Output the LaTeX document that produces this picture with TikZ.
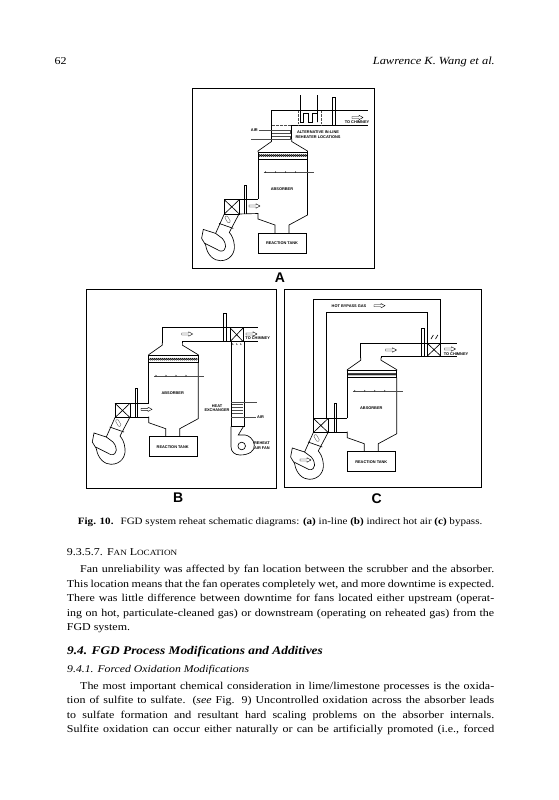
\documentclass[tikz,border=0pt]{standalone}
\usepackage{fontspec}
\setmainfont[FakeStretch=1.14]{Liberation Serif}
\setsansfont{Liberation Sans}
\usetikzlibrary{positioning}

\newcommand{\bodyline}[4]{\node[bodytext] (#1) at (#2,#3) {#4};}
\newcommand{\fillline}[5]{\node[bodytext] (#1) at (#2,#3) {\makebox[#4pt][s]{#5}};}

\tikzset{
  bodytext/.style={anchor=base west, inner sep=0pt, font=\fontsize{10.5}{12}\selectfont},
  tinylabel/.style={inner sep=0pt, align=center, font=\sffamily\bfseries\fontsize{3.9}{4.6}\selectfont},
  panelletter/.style={inner sep=0pt, font=\sffamily\bfseries\fontsize{14}{14}\selectfont},
  frameline/.style={draw=black, line width=0.9pt},
  pipeline/.style={draw=black, line width=0.65pt},
  thinline/.style={draw=black!70, line width=0.35pt},
  % absorber, origin at the top left corner of the packed bed
  pics/absorberunit/.style={code={
    \draw[pipeline] (0,0) rectangle (49.5,7);
    \foreach \x in {1,...,24} {
      \draw[black, line width=0.45pt] (2*\x-0.3,3.5) circle (1);
    }
    \draw[pipeline] (13.5,-13) -- (13.5,-10.5) -- (0,-1) -- (0,0);
    \draw[pipeline] (33.7,-13) -- (33.7,-10.5) -- (49.5,-1) -- (49.5,0);
    \draw[pipeline] (0,7) -- (0,47);
    \draw[pipeline] (0,61) -- (0,67) -- (17,73) -- (17,81);
    \draw[pipeline] (49.5,7) -- (49.5,63) -- (31,73) -- (31,81);
    \draw[pipeline] (0.5,81) rectangle (48.5,101);
    \draw[thinline] (5.5,20) -- (55.5,20);
    \foreach \x in {7,17,27,37} {
      \fill (\x,19.2) -- (\x+1,20) -- (\x,20.8) -- cycle;
    }
    \node[tinylabel] (label) at (24,37) {ABSORBER};
    \node[tinylabel] (tank) at (24,91) {REACTION TANK};
  }},
  % fan and damper, origin at the top left corner of the damper box
  pics/fanunit/.style={code={
    \draw[pipeline] (0,0) rectangle (15,14.3);
    \draw[pipeline] (0,0) -- (15,14.3) (15,0) -- (0,14.3);
    \draw[pipeline] (0,14.3) -- (-8.7,33.7) -- (-21,29.7) -- (-22.7,38.7) -- (-18.7,45.3)
      .. controls (-17,56) and (-10,61) .. (-4,61)
      .. controls (6,61) and (11,53) .. (10,45.3)
      .. controls (9.5,39) and (7,35) .. (5,32.7) -- (14.7,14.3);
    \draw[pipeline] (-19.3,43.7) -- (-4.3,51.3)
      .. controls (-1,52) and (1.5,49.5) .. (1.3,47)
      .. controls (1,42) and (-1,40) .. (-2,38.7) -- (-8.7,33.7);
    \draw[pipeline] (-5.3,23.7) -- (9,28.7);
    \draw[thinline, rotate around={-60:(3.3,19.7)}, rounded corners=1pt] (-0.3,18.2) rectangle (6.9,21.2);
  }},
  pics/gasarrow/.style={code={
    \draw[black, line width=0.4pt] (0,-1) -- (7,-1) -- (7,-2.2) -- (11,0) -- (7,2.2) -- (7,1) -- (0,1) -- cycle;
  }},
}

\begin{document}
\begin{tikzpicture}[x=1pt, y=-1pt]
  \useasboundingbox (0,0) rectangle (558,800);
  \fill[white] (0,0) rectangle (558,800);

  % Running head
  \node[bodytext] (pagenumber) at (54.5,65) {62};
  \node[bodytext, anchor=base east, font=\itshape\fontsize{10.9}{12}\selectfont] (running) at (495,65) {Lawrence K. Wang et al.};

  % Panel A
  \draw[frameline] (192.7,88) rectangle (374,268);
  \pic (absa) at (258,152) {absorberunit};
  \pic (fana) at (224.3,199.7) {fanunit};
  \draw[pipeline] (239.3,199.7) -- (258,199.7);
  \draw[pipeline] (239.3,214) -- (258,213.5);
  \draw[pipeline] (244,214) -- (244,185.5) -- (246.7,185.5) -- (246.7,214);
  \pic at (249,206) {gasarrow};
  \draw[pipeline] (271.5,139) -- (271.5,110.7) -- (368,110.7);
  \draw[pipeline] (291.7,139) -- (291.7,125) -- (368,125);
  \draw[pipeline] (332.3,125) -- (332.3,97.3) -- (335,97.3) -- (335,125);
  % in-line coil
  \draw[pipeline] (300,95) -- (300,122) -- (303,122) -- (303,113.5) -- (308,113.5) -- (308,122) -- (312,122)
    -- (312,113.5) -- (317.5,113.5) -- (317.5,122) -- (317.5,95);
  \draw[densely dotted, thinline] (298,111) -- (298,125) (321,111) -- (321,125);
  % alternative coil
  \draw[thinline] (258.5,130) -- (290,130) -- (290,133) -- (272,133) (272,136) -- (290,136) -- (290,139) -- (250.7,139);
  \draw[densely dotted, thinline] (271.5,125) -- (291.7,125);
  \node[tinylabel] (altlabel) at (318,134.5) {ALTERNATIVE IN-LINE\\REHEATER LOCATIONS};
  \node[tinylabel] (aira) at (254.3,130) {AIR};
  \pic at (352,117.5) {gasarrow};
  \node[tinylabel] (chimneya) at (357,122.5) {TO CHIMNEY};
  \node[panelletter] (lettera) at (280,278) {A};

  % Panel B
  \draw[frameline] (86,289.3) rectangle (276.7,488.3);
  \pic (absb) at (148.7,355.7) {absorberunit};
  \pic (fanb) at (115,403.3) {fanunit};
  \draw[pipeline] (130,403.3) -- (148.7,403.3);
  \draw[pipeline] (130,417.3) -- (148.7,417.3);
  \draw[pipeline] (135,417.3) -- (135,388.5) -- (137.3,388.5) -- (137.3,417.3);
  \pic at (141,409.3) {gasarrow};
  \draw[pipeline] (162.2,343) -- (162.2,327.7) -- (258.3,327.7);
  \draw[pipeline] (182.4,343) -- (182.4,341.7) -- (258.3,341.7);
  \draw[pipeline] (223.3,341.7) -- (223.3,313.3) -- (226,313.3) -- (226,341.7);
  \draw[pipeline] (230,327.7) rectangle (243.3,341.7);
  \draw[pipeline] (230,327.7) -- (243.3,341.7) (243.3,327.7) -- (230,341.7);
  \foreach \x in {232.5,236.5,240.5} {
    \draw[pipeline] (\x,343.5) -- (\x+0.7,345);
  }
  \pic at (181.7,334) {gasarrow};
  \pic at (246,334) {gasarrow};
  \node[tinylabel] (chimneyb) at (257.7,338.3) {TO CHIMNEY};
  % reheat column
  \draw[pipeline] (231,341.7) -- (231,426.7) (244,341.7) -- (244,426.7);
  \draw[thinline] (231,401.7) -- (257,401.7);
  \foreach \y in {404,407,410,413} {
    \draw[thinline] (232,\y) -- (243,\y);
  }
  \draw[thinline] (231,416.7) -- (256,416.7);
  \node[tinylabel] (airb) at (256,416.7) [right=1pt] {AIR};
  \node[tinylabel] (exchanger) at (217,408) {HEAT\\EXCHANGER};
  \draw[pipeline] (231,426.7) -- (244,426.7);
  \draw[pipeline] (231,426.7) -- (231,446.7)
    .. controls (231,452) and (235,455) .. (240,455)
    .. controls (249,455) and (255,451) .. (254.3,445)
    .. controls (254,439) and (248,435) .. (245,435)
    -- (238.3,435) -- (243.3,426.7);
  \draw[pipeline] (241.7,446) circle (3.8);
  \node[tinylabel] (reheatfan) at (262,445.5) {REHEAT\\AIR FAN};
  \node[panelletter] (letterb) at (178.3,497.5) {B};

  % Panel C
  \draw[frameline] (284.3,289.3) rectangle (481,487.3);
  \pic (absc) at (347.3,370.7) {absorberunit};
  \pic (fanc) at (313.3,418.3) {fanunit};
  \draw[pipeline] (328.3,418.3) -- (347.3,418.3);
  \draw[pipeline] (328.3,431.9) -- (347.3,431.9);
  \draw[pipeline] (334,431.9) -- (334,403.5) -- (336.7,403.5) -- (336.7,431.9);
  \pic at (300,460) {gasarrow};
  % bypass duct
  \draw[pipeline] (313.3,418.3) -- (313.3,299.3) -- (440.7,299.3) -- (440.7,343.3);
  \draw[pipeline] (326.7,418.3) -- (326.7,312.3) -- (427.3,312.3) -- (427.3,343.3);
  \node[tinylabel] (bypass) at (349,305.7) {HOT BYPASS GAS};
  \pic at (374,305.7) {gasarrow};
  \draw[pipeline] (360.8,358) -- (360.8,343.3) -- (427.3,343.3);
  \draw[pipeline] (381,358) -- (381,356) -- (456.7,356);
  \draw[pipeline] (440.7,343.3) -- (456.7,343.3);
  \draw[pipeline] (421,356) -- (421,328.3) -- (424,328.3) -- (424,356);
  \draw[pipeline] (427.3,343.3) rectangle (440.7,356);
  \draw[pipeline] (427.3,343.3) -- (440.7,356) (440.7,343.3) -- (427.3,356);
  \draw[pipeline] (431,339) -- (433.3,335) (435.5,339) -- (437.8,335);
  \pic at (385.5,350) {gasarrow};
  \pic at (444.5,349) {gasarrow};
  \node[tinylabel] (chimneyc) at (456,353.7) {TO CHIMNEY};
  \node[panelletter] (letterc) at (376.7,498.5) {C};

  % Caption
  \node[bodytext, font=\fontsize{9.7}{12}\selectfont] (caption) at (77.7,524)
    {\textbf{Fig. 10.}\hspace{0.35em} FGD system reheat schematic diagrams: \textbf{(a)} in-line \textbf{(b)} indirect hot air \textbf{(c)} bypass.};

  % Section on fan location
  \bodyline{fanhead}{66.7}{555}{9.3.5.7.\hspace{0.4em}F{\fontsize{8}{8}\selectfont AN} L{\fontsize{8}{8}\selectfont OCATION}}
  \fillline{fana1}{80}{572.7}{414}{Fan unreliability was affected by fan location between the scrubber and the absorber.}
  \fillline{fana2}{66.7}{587}{427.3}{This location means that the fan operates completely wet, and more downtime is expected.}
  \fillline{fana3}{66.7}{601.5}{427.3}{There was little difference between downtime for fans located either upstream (operat-}
  \fillline{fana4}{66.7}{616}{427.3}{ing on hot, particulate-cleaned gas) or downstream (operating on reheated gas) from the}
  \bodyline{fana5}{66.7}{630.5}{FGD system.}

  % Section on process modifications
  \node[bodytext, font=\bfseries\itshape\fontsize{11.7}{12}\selectfont] (prochead) at (67,654) {9.4. FGD Process Modifications and Additives};
  \node[bodytext, font=\itshape\fontsize{10.3}{12}\selectfont] (oxhead) at (67,672.3) {9.4.1. Forced Oxidation Modifications};
  \fillline{oxa1}{80}{689}{414}{The most important chemical consideration in lime/limestone processes is the oxida-}
  \fillline{oxa2}{66.7}{703.5}{427.3}{tion of sulfite to sulfate. (\textit{see} Fig. 9) Uncontrolled oxidation across the absorber leads}
  \fillline{oxa3}{66.7}{718}{427.3}{to sulfate formation and resultant hard scaling problems on the absorber internals.}
  \fillline{oxa4}{66.7}{732.5}{427.3}{Sulfite oxidation can occur either naturally or can be artificially promoted (i.e., forced}
\end{tikzpicture}
\end{document}
